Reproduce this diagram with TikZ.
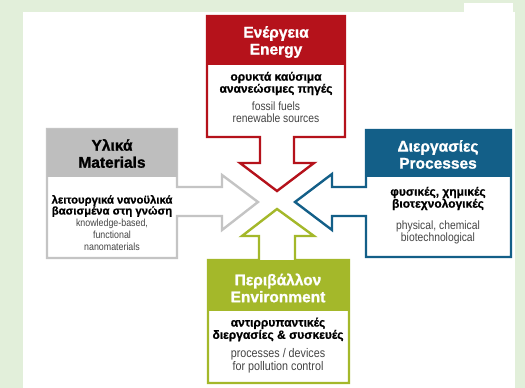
\documentclass[tikz,border=0pt]{standalone}
\usepackage{fontspec}
\setmainfont{Liberation Sans}
\newfontfamily\engfont{Liberation Sans}[FakeStretch=0.86]
\newfontfamily\grkfont{Liberation Sans Bold}[FakeBold=0.8]
\newfontfamily\hdfont{Liberation Sans Bold}[FakeBold=1.2]
\definecolor{bggreen}{HTML}{E2EFDA}
\definecolor{cred}{HTML}{B5121B}
\definecolor{cgrey}{HTML}{C4C4C4}
\definecolor{cgreyhead}{HTML}{BEBEBE}
\definecolor{cblue}{HTML}{135F88}
\definecolor{cgreen}{HTML}{A4B82A}
\definecolor{ctext}{HTML}{444444}
\begin{document}
\begin{tikzpicture}[x=1pt,y=-1pt,
  shapeline/.style={line width=2.4pt, fill=white, line join=miter},
  headtxt/.style={font=\hdfont\fontsize{15.5}{17}\selectfont, align=center, inner sep=0pt},
  greektxt/.style={font=\grkfont\fontsize{12}{12}\selectfont, align=center, inner sep=0pt, text=black},
  engtxt/.style={font=\engfont\fontsize{12}{12}\selectfont, align=center, inner sep=0pt, text=ctext}]
\useasboundingbox (0,0) rectangle (525,388);
\fill[bggreen] (0,0) rectangle (525,388);
\fill[white] (23,12) rectangle (515,388);
\fill[white] (464,3) rectangle (513,32);

% Energy
\draw[cred, shapeline] (207,16) -- (345,16) -- (345,137) -- (294,137) -- (294,163) -- (314,163) -- (277,191) -- (240,163) -- (260,163) -- (260,137) -- (207,137) -- cycle;
\fill[cred] (207,16) rectangle (345,65);
\node[headtxt, text=white] (enh) at (276,42) {Ενέργεια\\Energy};
\node[greektxt] (eng) at (276,83.5) {ορυκτά καύσιμα\\ανανεώσιμες πηγές};
\node[engtxt] (ene) at (276,112.5) {fossil fuels\\renewable sources};

% Materials
\draw[cgrey, shapeline] (47,129) -- (177,129) -- (177,187) -- (222,187) -- (222,175) -- (258,202) -- (222,230) -- (222,216) -- (177,216) -- (177,258) -- (47,258) -- cycle;
\fill[cgreyhead] (47,129) rectangle (177,177);
\node[headtxt, text=black] (mah) at (112,153.5) {Υλικά\\Materials};
\node[greektxt, font=\grkfont\fontsize{11.3}{11}\selectfont] (mag) at (112,206) {λειτουργικά νανοϋλικά\\βασισμένα στη γνώση};
\node[engtxt, font=\engfont\fontsize{10.3}{12}\selectfont] (mae) at (112,234.5) {knowledge-based,\\functional\\nanomaterials};

% Processes
\draw[cblue, shapeline] (511,130) -- (366,130) -- (366,187) -- (332,187) -- (332,174) -- (295,202) -- (332,230) -- (332,216) -- (366,216) -- (366,257) -- (511,257) -- cycle;
\fill[cblue] (366,130) rectangle (511,177);
\node[headtxt, text=white] (prh) at (438,154.5) {Διεργασίες\\Processes};
\node[greektxt] (prg) at (438,198.5) {φυσικές, χημικές\\βιοτεχνολογικές};
\node[engtxt] (pre) at (438,232) {physical, chemical\\biotechnological};

% Environment
\draw[cgreen, shapeline] (208,383) -- (349,383) -- (349,260) -- (295,260) -- (295,236) -- (314,236) -- (277,209) -- (242,236) -- (259,236) -- (259,260) -- (208,260) -- cycle;
\fill[cgreen] (208,260) rectangle (349,311);
\node[headtxt, text=white] (evh) at (278,288) {Περιβάλλον\\Environment};
\node[greektxt, font=\grkfont\fontsize{12}{11}\selectfont] (evg) at (278,329.5) {αντιρρυπαντικές\\διεργασίες \& συσκευές};
\node[engtxt, font=\engfont\fontsize{12.5}{11}\selectfont] (eve) at (278,360.5) {processes / devices\\for pollution control};
\end{tikzpicture}
\end{document}
